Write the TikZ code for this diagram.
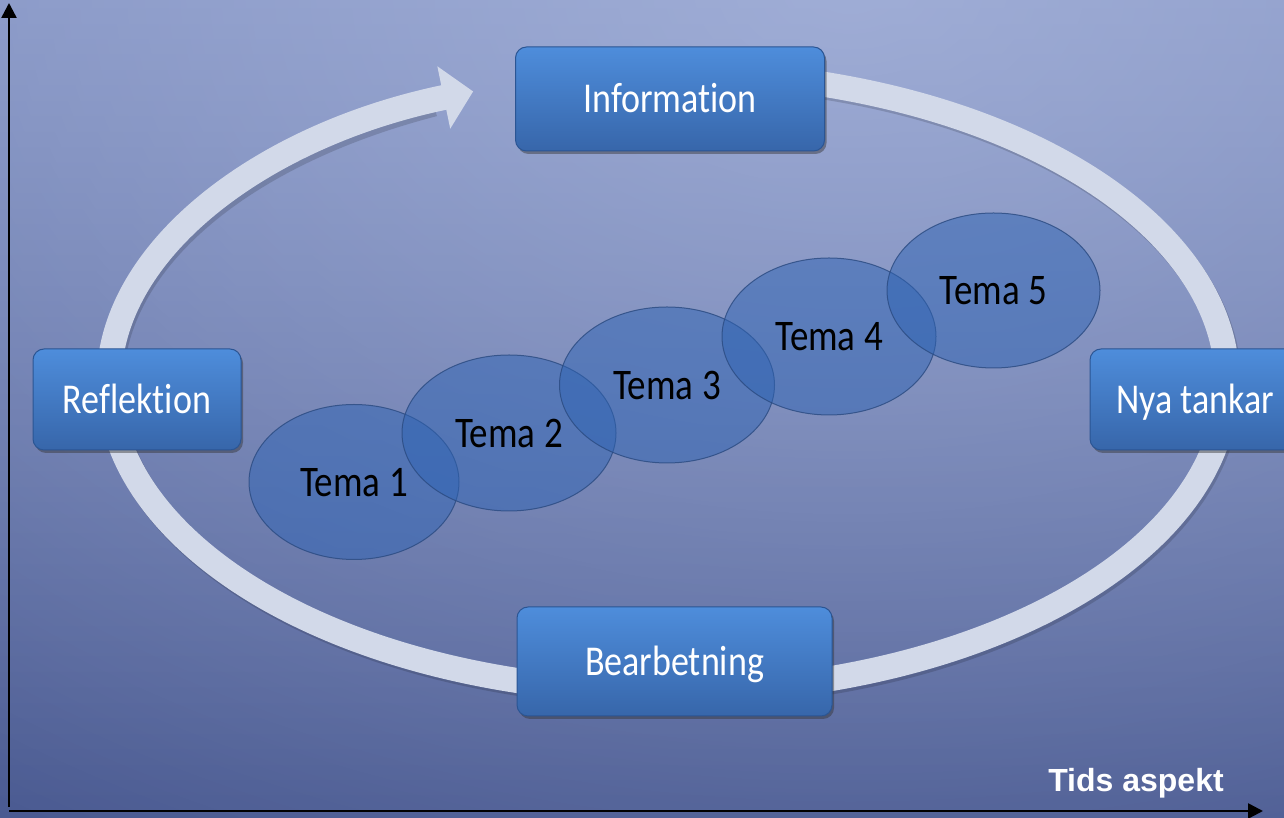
\documentclass[tikz,border=0pt]{standalone}
\usepackage{fontspec}
\setmainfont{Carlito}[Ligatures=NoCommon]
\newfontfamily\tidsfont{Liberation Sans}
\usetikzlibrary{arrows.meta,shadows,fadings,shapes.geometric}
\tikzfading[name=glowfade, inner color=transparent!0, outer color=transparent!100]
\newcommand{\tallt}[1]{\scalebox{1}[1.18]{#1}}
\definecolor{bgtop}{HTML}{7F8FC0}
\definecolor{bgmid}{HTML}{7080B5}
\definecolor{bgbot}{HTML}{4A5A91}
\definecolor{glowc}{HTML}{BAC6E8}
\definecolor{ringc}{HTML}{D2D9E9}
\definecolor{boxtop}{HTML}{4E8DDB}
\definecolor{boxbot}{HTML}{3766AA}
\definecolor{boxline}{HTML}{2B5593}
\definecolor{temafill}{HTML}{2F64B4}
\definecolor{temaline}{HTML}{2A4A80}
\tikzset{
  stagebox/.style={rounded corners=11pt, top color=boxtop, bottom color=boxbot,
    draw=boxline, line width=1pt, text=white, inner sep=0pt,
    font=\fontsize{36}{40}\selectfont, text height=28pt, text depth=0pt,
    drop shadow={shadow xshift=2pt, shadow yshift=-3pt, opacity=0.45, fill=black!80}},
  temaell/.style={ellipse, fill=temafill, fill opacity=0.5, draw=temaline,
    draw opacity=0.8, line width=1pt, text opacity=1, text=black, inner sep=0pt,
    font=\fontsize{37}{40}\selectfont, text height=29pt, text depth=0pt},
  axisline/.style={black, line width=2.5pt, -{Triangle[length=15pt,width=15pt]}},
  ringline/.style={ringc, line width=25pt, -{Triangle[length=30pt,width=62pt]}}
}
\begin{document}
\begin{tikzpicture}[x=1pt,y=1pt]
\useasboundingbox (0,0) rectangle (1284,818);
\begin{scope}
\clip (0,0) rectangle (1284,818);
% background
\shade[top color=bgtop, middle color=bgmid, bottom color=bgbot] (0,0) rectangle (1284,818);
\fill[glowc, opacity=0.55, path fading=glowfade] (850,830) ellipse (1500 and 1000);
% ring shadow
\draw[black, opacity=0.15, line width=25pt] ([shift={(670,433)}]80:559 and 310) arc[start angle=80, end angle=-245, x radius=559, y radius=310];
% ring with arrow
\draw[ringline] ([shift={(668,436)}]80:559 and 310) arc[start angle=80, end angle=-249.6, x radius=559, y radius=310];
% stage boxes
\node[stagebox, minimum width=309pt, minimum height=104pt] (info) at (670,719) {\tallt{Information}};
\node[stagebox, minimum width=208pt, minimum height=101pt] (refl) at (137,418.5) {\tallt{Reflektion}};
\node[stagebox, minimum width=210pt, minimum height=101pt] (nya) at (1195,418.5) {\tallt{Nya tankar}};
\node[stagebox, minimum width=315pt, minimum height=109pt] (bear) at (674.5,156.5) {\tallt{Bearbetning}};
% themes
\node[temaell, minimum width=210pt, minimum height=155pt] (t1) at (354,336) {\tallt{Tema 1}};
\node[temaell, minimum width=214pt, minimum height=156pt] (t2) at (509,385) {\tallt{Tema 2}};
\node[temaell, minimum width=215pt, minimum height=156pt] (t3) at (667,433) {\tallt{Tema 3}};
\node[temaell, minimum width=214pt, minimum height=157pt] (t4) at (829,481.5) {\tallt{Tema 4}};
\node[temaell, minimum width=213pt, minimum height=155pt] (t5) at (993.5,527.5) {\tallt{Tema 5}};
% axes
\coordinate (xorig) at (9,7);
\coordinate (yorig) at (9,11);
\coordinate (ytop) at (9,815);
\coordinate (xend) at (1263,7);
\draw[axisline] (yorig) -- (ytop);
\draw[axisline] (xorig) -- (xend);
\node[anchor=base, text=white, font=\tidsfont\bfseries\fontsize{32}{36}\selectfont, inner sep=0pt] (tids) at (1136,26) {Tids aspekt};
\end{scope}
\end{tikzpicture}
\end{document}
